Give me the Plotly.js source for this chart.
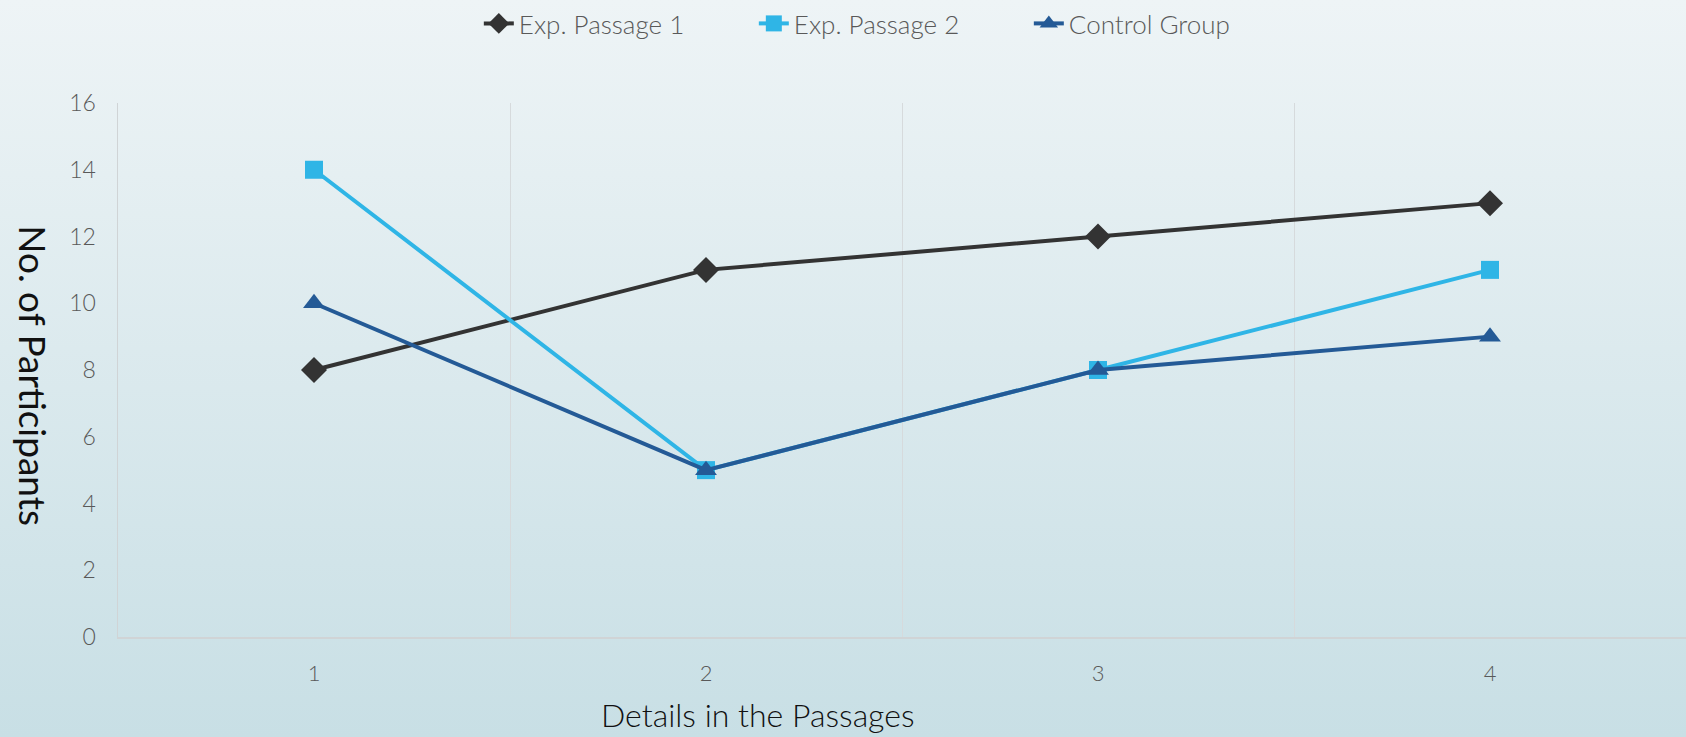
<!DOCTYPE html>
<html>
<head>
<meta charset="utf-8">
<script src="https://cdn.plot.ly/plotly-3.0.1.min.js"></script>
<style>
html, body { margin: 0; padding: 0; }
body { width: 1686px; height: 737px; background: linear-gradient(to bottom, #eef4f6 0%, #c8dfe5 100%); }
#chart { width: 1686px; height: 737px; }
</style>
</head>
<body>
<div id="chart"></div>
<script>
const categories = ['1', '2', '3', '4'];
const seriesNames = ['Exp. Passage 1', 'Exp. Passage 2', 'Control Group'];
const expPassage1 = [8, 11, 12, 13];
const expPassage2 = [14, 5, 8, 11];
const controlGroup = [10, 5, 8, 9];
const yTickVals = [0, 2, 4, 6, 8, 10, 12, 14, 16];
const xTitle = 'Details in the Passages';
const yTitle = 'No. of Participants';

const styles = [
  { color: '#333333', symbol: 'diamond', size: 20 },
  { color: '#2fb5e6', symbol: 'square', size: 18 },
  { color: '#245a96', symbol: 'triangle-up', size: 19 }
];
const values = [expPassage1, expPassage2, controlGroup];

const traces = values.map((v, i) => ({
  type: 'scatter',
  mode: 'lines+markers',
  name: seriesNames[i],
  x: categories,
  y: v,
  line: { color: styles[i].color, width: 4 },
  marker: { color: styles[i].color, symbol: styles[i].symbol, size: styles[i].size, line: { width: 0 } }
}));

const fontFam = 'Lato, "Open Sans", sans-serif';
const layout = {
  width: 1686,
  height: 737,
  paper_bgcolor: 'rgba(0,0,0,0)',
  plot_bgcolor: 'rgba(0,0,0,0)',
  margin: { l: 118, r: 0, t: 103, b: 100 },
  showlegend: true,
  legend: {
    orientation: 'h',
    xref: 'container', yref: 'container',
    x: 0.284, xanchor: 'left',
    y: 1.0, yanchor: 'top',
    font: { family: fontFam, size: 26, color: '#595959', weight: 300 },
    entrywidth: 230,
    entrywidthmode: 'pixels',
    tracegroupgap: 0
  },
  xaxis: {
    type: 'category',
    categoryorder: 'array',
    categoryarray: categories,
    range: [-0.5, 3.5],
    tickson: 'boundaries',
    showgrid: true,
    gridcolor: '#d6dadc',
    gridwidth: 1,
    showline: true,
    linecolor: '#d0d4d6',
    linewidth: 1.5,
    ticks: '',
    ticklabelstandoff: 16,
    tickfont: { family: fontFam, size: 22, color: '#595959', weight: 300 },
    zeroline: false,
    fixedrange: true
  },
  yaxis: {
    range: [0, 16],
    tickvals: yTickVals,
    showgrid: false,
    zeroline: false,
    showline: true,
    linecolor: '#d0d4d6',
    linewidth: 1.5,
    ticks: '',
    ticklabelstandoff: 16,
    tickfont: { family: fontFam, size: 23, color: '#595959', weight: 300 },
    fixedrange: true
  },
  annotations: [
    {
      text: xTitle, xref: 'paper', yref: 'paper',
      x: 0.408, y: -0.146, xanchor: 'center', yanchor: 'middle',
      showarrow: false,
      font: { family: fontFam, size: 32, color: '#111111', weight: 300 }
    },
    {
      text: yTitle, xref: 'paper', yref: 'paper',
      x: -0.0535, y: 0.49, xanchor: 'center', yanchor: 'middle',
      textangle: 90,
      showarrow: false,
      font: { family: fontFam, size: 37, color: '#111111', weight: 400 }
    }
  ]
};

Plotly.newPlot('chart', traces, layout, { displayModeBar: false, staticPlot: true });
</script>
</body>
</html>
